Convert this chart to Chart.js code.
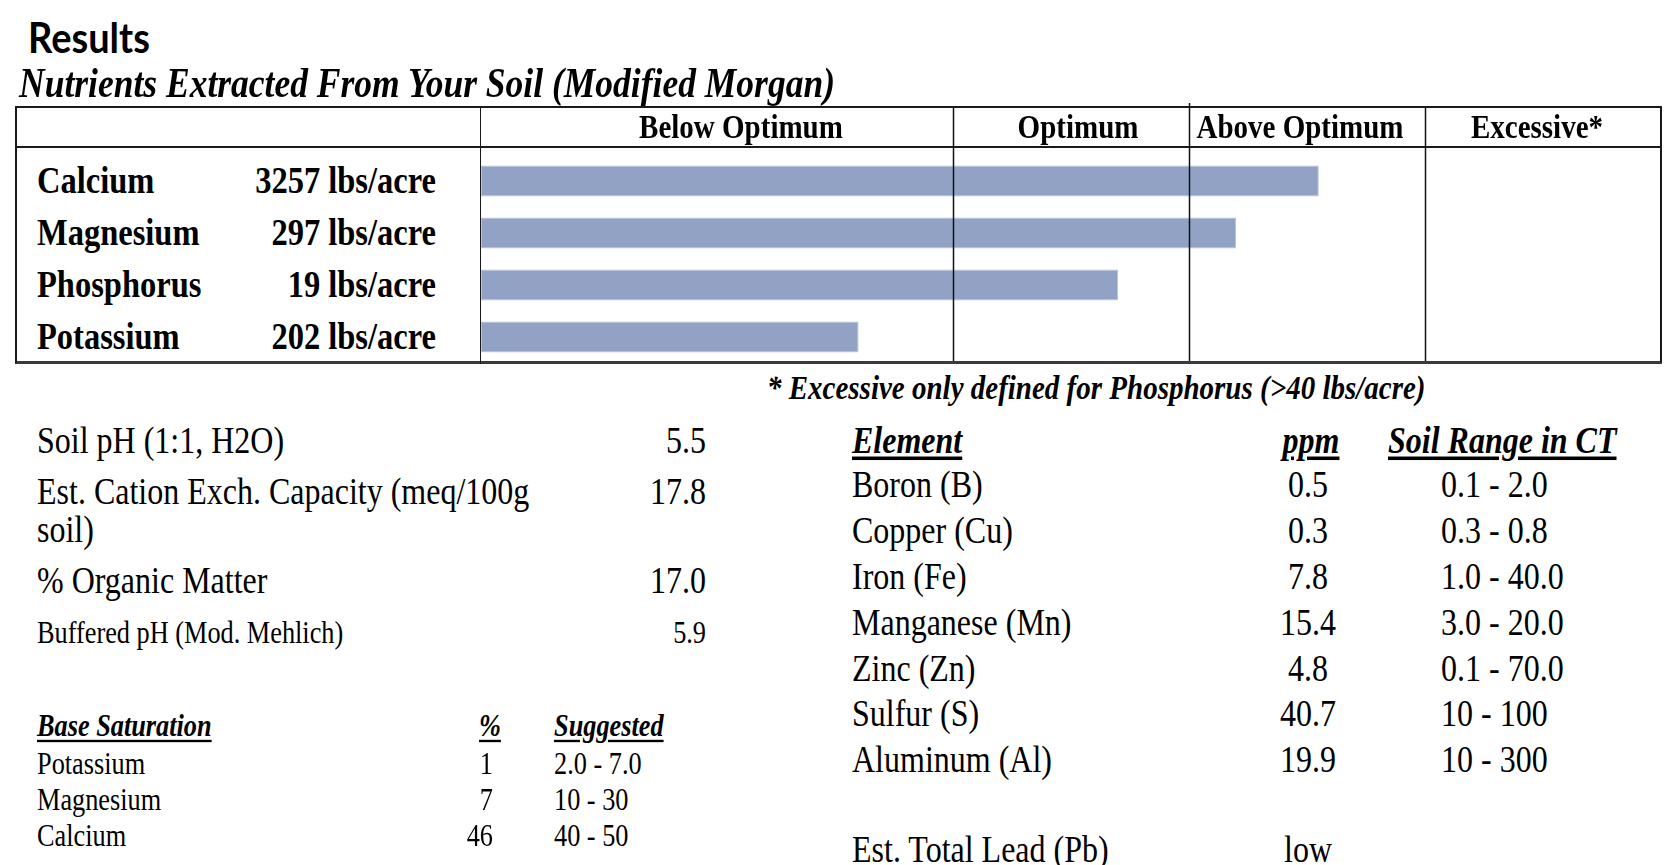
<!DOCTYPE html>
<html>
<head>
<meta charset="utf-8">
<script src="https://cdn.jsdelivr.net/npm/chart.js@4.4.1/dist/chart.umd.min.js"></script>
<style>
  body { margin: 0; background: #fff; width: 1675px; height: 865px; overflow: hidden; position: relative; }
  .t { position: absolute; white-space: nowrap; line-height: 1; color: #000;
       font-family: "Liberation Serif", "Times New Roman", serif; }
  .ln { position: absolute; background: #1a1a1a; }
  #wrap { position: absolute; left: 481px; top: 103px; width: 1180px; height: 261px; }
</style>
</head>
<body>
<div id="wrap"><canvas id="myChart"></canvas></div>
<script>
// nutrient bars
var nutrients = ['Calcium', 'Magnesium', 'Phosphorus', 'Potassium'];
var nutrientAmounts = ['3257 lbs/acre', '297 lbs/acre', '19 lbs/acre', '202 lbs/acre'];
var barLevels = [71, 64, 54, 32];
var bandLabels = ['Below Optimum', 'Optimum', 'Above Optimum', 'Excessive*'];
var bandEdges = [0, 40, 60, 80, 100];

// soil tests
var soilTests = ['Soil pH (1:1, H2O)', 'Est. Cation Exch. Capacity (meq/100g', '% Organic Matter', 'Buffered pH (Mod. Mehlich)'];
var soilValues = ['5.5', '17.8', '17.0', '5.9'];

// base saturation
var baseNames = ['Potassium', 'Magnesium', 'Calcium'];
var basePct = ['1', '7', '46'];
var baseSuggested = ['2.0 - 7.0', '10 - 30', '40 - 50'];

// micronutrients
var elements = ['Boron (B)', 'Copper (Cu)', 'Iron (Fe)', 'Manganese (Mn)', 'Zinc (Zn)', 'Sulfur (S)', 'Aluminum (Al)'];
var ppm = ['0.5', '0.3', '7.8', '15.4', '4.8', '40.7', '19.9'];
var ctRange = ['0.1 - 2.0', '0.3 - 0.8', '1.0 - 40.0', '3.0 - 20.0', '0.1 - 70.0', '10 - 100', '10 - 300'];

function put(text, x, y, o) {
  o = o || {};
  var d = document.createElement('div');
  d.className = 't';
  d.textContent = text;
  d.style.left = x + 'px';
  d.style.top = y + 'px';
  d.style.fontSize = (o.size || 32) + 'px';
  if (o.bold) d.style.fontWeight = 'bold';
  if (o.italic) d.style.fontStyle = 'italic';
  if (o.under) { d.style.textDecoration = 'underline'; d.style.textUnderlineOffset = '3px'; }
  if (o.font) d.style.fontFamily = o.font;
  var tx = o.align === 'right' ? '-100%' : o.align === 'center' ? '-50%' : '0';
  d.style.transform = 'translate(' + tx + ', -50%) scaleY(' + (o.sy || 1.18) + ')';
  document.body.appendChild(d);
}

function line(x, y, w, h, c) {
  var d = document.createElement('div');
  d.className = 'ln';
  d.style.left = x + 'px'; d.style.top = y + 'px';
  d.style.width = w + 'px'; d.style.height = h + 'px';
  if (c) d.style.background = c;
  document.body.appendChild(d);
}

// table frame
line(15, 106, 1647, 2);
line(15, 146, 1647, 2);
line(15, 361, 1647, 2.5, '#3a3a3a');
line(15, 106, 2, 257);
line(1660, 106, 2, 256);
line(479.5, 106, 1.5, 258);

var bandLines = {
  id: 'bandLines',
  afterDatasetsDraw: function (chart) {
    var ctx = chart.ctx, xs = chart.scales.x;
    ctx.save();
    ctx.strokeStyle = '#111';
    ctx.lineWidth = 1.5;
    bandEdges.slice(1, -1).forEach(function (v) {
      var px = Math.round(xs.getPixelForValue(v)) + 0.5;
      ctx.beginPath();
      ctx.moveTo(px, v === 60 ? 0 : 4);
      ctx.lineTo(px, 259);
      ctx.stroke();
    });
    ctx.restore();
  }
};

var ctx = document.getElementById('myChart').getContext('2d');
var chart = new Chart(ctx, {
  type: 'bar',
  data: {
    labels: nutrients,
    datasets: [{
      data: barLevels,
      backgroundColor: 'rgb(145, 162, 197)',
      borderColor: 'rgb(184, 195, 219)',
      borderWidth: 1,
      borderSkipped: false,
      barPercentage: 0.6,
      categoryPercentage: 1
    }]
  },
  options: {
    indexAxis: 'y',
    responsive: true,
    maintainAspectRatio: false,
    animation: false,
    layout: { padding: { top: 52, bottom: 1, left: 0, right: 0 } },
    plugins: { legend: { display: false }, tooltip: { enabled: false } },
    scales: {
      x: { display: false, min: 0, max: 100 },
      y: { display: false }
    }
  },
  plugins: [bandLines]
});

// headings
put('Results', 28, 36, { size: 38, bold: true, font: 'Lato, "Open Sans", sans-serif', sy: 1.1 });
put('Nutrients Extracted From Your Soil (Modified Morgan)', 19, 84, { size: 35.5, bold: true, italic: true });

// band headers (label centres sit a little off the band middles in the original)
var headerX = [741, 1078, 1300, 1537];
bandLabels.forEach(function (b, i) {
  put(b, headerX[i], 127, { size: 29, bold: true, align: 'center' });
});

// row labels follow the chart's category scale
var cy = chart.scales.y, top0 = 103;
nutrients.forEach(function (n, i) {
  var y = top0 + cy.getPixelForValue(i) - 1;
  put(n, 37, y, { size: 32.5, bold: true });
  put(nutrientAmounts[i], 436, y, { size: 32.5, bold: true, align: 'right' });
});

put('* Excessive only defined for Phosphorus (>40 lbs/acre)', 767, 388, { size: 29, bold: true, italic: true });

// soil tests
var soilY = [440, 491, 580, 634];
soilTests.forEach(function (s, i) {
  var sz = i === 3 ? 26.3 : 32;
  put(s, 37, soilY[i], { size: sz });
  put(soilValues[i], 706, soilY[i], { size: sz, align: 'right' });
});
put('soil)', 37, 529, { size: 32 });

// base saturation
put('Base Saturation', 37, 727, { size: 26.3, bold: true, italic: true, under: true });
put('%', 490, 727, { size: 26.3, bold: true, italic: true, under: true, align: 'center' });
put('Suggested', 554, 727, { size: 26.3, bold: true, italic: true, under: true });
var baseY = [765, 801, 837];
baseNames.forEach(function (n, i) {
  put(n, 37, baseY[i], { size: 26.3 });
  put(basePct[i], 493, baseY[i], { size: 26.3, align: 'right' });
  put(baseSuggested[i], 554, baseY[i], { size: 26.3 });
});

// micronutrients
put('Element', 852, 440, { size: 32, bold: true, italic: true, under: true });
put('ppm', 1311, 440, { size: 32, bold: true, italic: true, under: true, align: 'center' });
put('Soil Range in CT', 1388, 440, { size: 32, bold: true, italic: true, under: true });
var elY = [484, 530, 576, 622, 668, 713, 759];
elements.forEach(function (e, i) {
  put(e, 852, elY[i]);
  put(ppm[i], 1308, elY[i], { align: 'center' });
  put(ctRange[i], 1441, elY[i]);
});
put('Est. Total Lead (Pb)', 852, 849);
put('low', 1308, 849, { align: 'center' });
</script>
</body>
</html>
